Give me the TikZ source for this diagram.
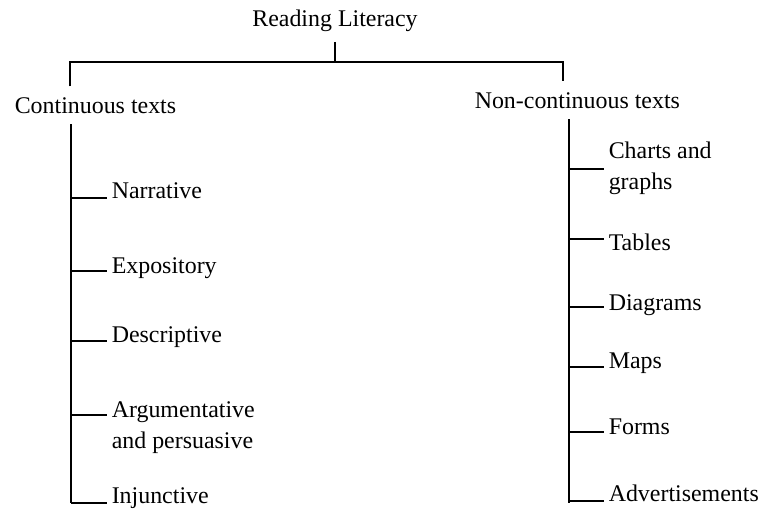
\documentclass[tikz,border=0pt]{standalone}
\usepackage{fontspec}
\setmainfont{Liberation Serif}
\usepackage{tikz}

\begin{document}
\begin{tikzpicture}[x=0.025cm, y=-0.025cm, line width=1.1pt,
  every node/.style={font=\fontsize{17}{22}\selectfont},
  head/.style={inner xsep=0pt, inner ysep=0.25cm},
  leaf/.style={anchor=base west, inner xsep=0.1cm, inner ysep=0pt, align=left}]
\useasboundingbox (0,0) rectangle (762,509);
% Root and the two text formats
\node[head, anchor=base] (root) at (335,26) {Reading Literacy};
\node[head, anchor=base west] (cont) at (14,113) {Continuous texts};
\node[head, anchor=base west] (noncont) at (474,108) {Non-continuous texts};
\coordinate (jl) at (70,62);
\coordinate (jr) at (563,62);
\draw (root.south) -- (root.south |- jl);
\draw (jl |- cont.north) -- (jl) -- (jr) -- (jr |- noncont.north);
% Trunks
\coordinate (ct) at (71,503);
\coordinate (nt) at (569,503);
\draw (ct |- cont.south) -- (ct);
\draw (nt |- noncont.south) -- (nt);
% Continuous text types (base = last line)
\foreach \name/\by/\ty/\txt in {narr/198/198/Narrative, expo/271/273/Expository, desc/341/342/Descriptive, argu/415/448/{Argumentative\\and persuasive}, inju/503/503/Injunctive} {
    \coordinate (\name-b) at (71,\by);
    \node[leaf] (\name) at (107,\ty) {\txt};
    \draw (\name-b) -- (\name.west |- \name-b);
}
% Non-continuous text types
\foreach \name/\by/\ty/\txt in {chrt/169/189/{Charts and\\graphs}, tabl/239/250/Tables, diag/307/310/Diagrams, maps/367/368/Maps, form/432/434/Forms, advt/501/501/Advertisements} {
    \coordinate (\name-b) at (569,\by);
    \node[leaf] (\name) at (604,\ty) {\txt};
    \draw (\name-b) -- (\name.west |- \name-b);
}
\end{tikzpicture}
\end{document}
